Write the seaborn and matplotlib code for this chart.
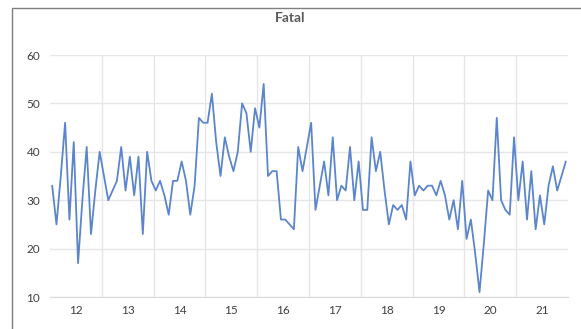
import numpy as np
import pandas as pd
import matplotlib
matplotlib.use('Agg')
import matplotlib.pyplot as plt
import seaborn as sns
from matplotlib.patches import Rectangle

# monthly fatal counts, one list per year
fatal_2012 = [33, 25, 35, 46, 26, 42, 17, 30, 41, 23, 32, 40]
fatal_2013 = [35, 30, 32, 34, 41, 32, 39, 31, 39, 23, 40, 34]
fatal_2014 = [32, 34, 31, 27, 34, 34, 38, 34, 27, 33, 47, 46]
fatal_2015 = [46, 52, 42, 35, 43, 39, 36, 40, 50, 48, 40, 49]
fatal_2016 = [45, 54, 35, 36, 36, 26, 26, 25, 24, 41, 36, 41]
fatal_2017 = [46, 28, 33, 38, 31, 43, 30, 33, 32, 41, 30, 38]
fatal_2018 = [28, 28, 43, 36, 40, 32, 25, 29, 28, 29, 26, 38]
fatal_2019 = [31, 33, 32, 33, 33, 31, 34, 31, 26, 30, 24, 34]
fatal_2020 = [22, 26, 19, 11, 21, 32, 30, 47, 30, 28, 27, 43]
fatal_2021 = [30, 38, 26, 36, 24, 31, 25, 33, 37, 32, 35, 38]

year_labels = ['12', '13', '14', '15', '16', '17', '18', '19', '20', '21']
y_ticks = [10, 20, 30, 40, 50, 60]

values = (fatal_2012 + fatal_2013 + fatal_2014 + fatal_2015 + fatal_2016 +
          fatal_2017 + fatal_2018 + fatal_2019 + fatal_2020 + fatal_2021)
df = pd.DataFrame({'month': np.arange(len(values)) + 0.5, 'fatal': values})

sns.set_style('white')
plt.rcParams['font.family'] = ['Lato', 'DejaVu Sans']

fig = plt.figure(figsize=(5.81, 3.29), dpi=100)
ax = fig.add_axes([50 / 581, 1 - 297 / 329, 518 / 581, 242 / 329])

sns.lineplot(data=df, x='month', y='fatal', ax=ax, color='#5b85cc', linewidth=1.3)

ax.set_xlim(0, len(values))
ax.set_ylim(10, 60)
ax.set_yticks(y_ticks)

# year boundaries as gridlines, labels centred within each year
ax.set_xticks(np.arange(12, len(values), 12))
ax.set_xticklabels([])
ax.set_xticks(np.arange(len(year_labels)) * 12 + 6, minor=True)
ax.set_xticklabels(year_labels, minor=True)

ax.grid(True, which='major', color='#e6e6e6', linewidth=1)
ax.tick_params(axis='both', which='both', length=0, labelsize=8.5, labelcolor='#404040')
ax.tick_params(axis='y', pad=7)
ax.tick_params(axis='x', which='minor', pad=6)
ax.set_xlabel('')
ax.set_ylabel('')
for side in ['top', 'right', 'left']:
    ax.spines[side].set_visible(False)
ax.spines['bottom'].set_color('#d9d9d9')

fig.text(0.5, 1 - 18 / 329, 'Fatal', ha='center', va='center',
         fontsize=10, fontweight='bold', color='#595959')

# chart area border (cropped on right and bottom)
fig.patches.append(Rectangle((12 / 581, -0.2), 1.2, 1.2 - 8 / 329,
                             transform=fig.transFigure, fill=False,
                             edgecolor='#7f7f7f', linewidth=1))

fig.savefig('out.png', dpi=100)
